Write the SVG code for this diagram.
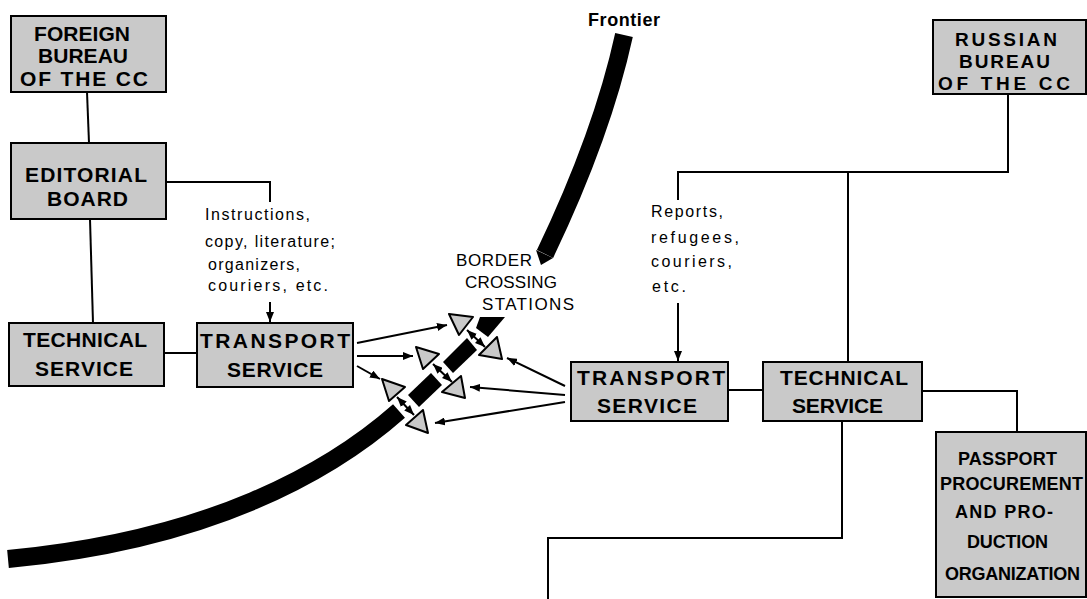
<svg xmlns="http://www.w3.org/2000/svg" width="1087" height="599" viewBox="0 0 1087 599">
<defs>
<marker id="ah" viewBox="0 0 10 8" refX="10" refY="4" markerWidth="10" markerHeight="8" markerUnits="userSpaceOnUse" orient="auto-start-reverse">
<path d="M0,0 L10,4 L0,8 Z" fill="#000"/>
</marker>
</defs>
<style>
.box{fill:#c9c9c9;stroke:#000;stroke-width:2}
.bt{font-family:"Liberation Sans",Arial,sans-serif;font-weight:bold;font-size:21px;fill:#000}
.br{font-family:"Liberation Sans",Arial,sans-serif;font-weight:bold;font-size:19px;fill:#000}
.bs{font-family:"Liberation Sans",Arial,sans-serif;font-weight:bold;font-size:18px;fill:#000}
.ann{font-family:"Liberation Sans",Arial,sans-serif;font-size:16px;fill:#000}
.lbl{font-family:"Liberation Sans",Arial,sans-serif;font-size:17px;fill:#000}
.ln{fill:none;stroke:#000;stroke-width:2}
.ar{fill:none;stroke:#000;stroke-width:2;marker-end:url(#ah)}
.da{fill:none;stroke:#000;stroke-width:2;marker-start:url(#ah);marker-end:url(#ah)}
.st{fill:#c9c9c9;stroke:#000;stroke-width:2;stroke-linejoin:round}
.band{fill:none;stroke:#000;stroke-width:18}
</style>
<rect width="1087" height="599" fill="#fff"/>

<g id="frontier">
<path class="band" d="M624,35 C612,90 590,160 545,254"/>
<polygon points="536,250 553,258 541,265" fill="#000"/>
<polygon points="480,317 505,317 488,337 476,328" fill="#000"/>
<polygon points="467,338 477,350 453,373 443,362" fill="#000"/>
<polygon points="431,373 442,385 419,407 408,395" fill="#000"/>
<path class="band" d="M399,411 C330,472 210,540 8,559"/>
<text x="588" y="26" font-family="Liberation Sans,Arial,sans-serif" font-weight="bold" font-size="18" textLength="72" lengthAdjust="spacing">Frontier</text>
</g>

<g id="border-crossing-label">
<text class="lbl" x="456" y="266" textLength="76" lengthAdjust="spacing">BORDER</text>
<text class="lbl" x="465" y="288" textLength="92" lengthAdjust="spacing">CROSSING</text>
<text class="lbl" x="482" y="310" textLength="92" lengthAdjust="spacing">STATIONS</text>
</g>

<g id="stations">
<polygon class="st" points="449,314 473,317 459,335"/>
<polygon class="st" points="497,337 479,355 502,359"/>
<polygon class="st" points="416,347 439,354 423,369"/>
<polygon class="st" points="461,376 442,392 465,398"/>
<polygon class="st" points="382,379 405,387 389,401"/>
<polygon class="st" points="423,410 406,425 428,433"/>
</g>

<g id="connectors">
<polyline class="ln" points="87,92 89,143"/>
<polyline class="ln" points="90,219 93,323"/>
<polyline class="ln" points="166,182 270,182 270,202"/>
<polyline class="ln" points="164,353 197,353"/>
<line class="ar" x1="270" y1="302" x2="270" y2="322"/>
<line class="ar" x1="357" y1="343" x2="447" y2="325"/>
<line class="ar" x1="357" y1="356" x2="413" y2="356"/>
<line class="ar" x1="357" y1="366" x2="380" y2="379"/>
<line class="da" x1="467" y1="330" x2="485" y2="347"/>
<line class="da" x1="433" y1="364" x2="452" y2="382"/>
<line class="da" x1="397" y1="397" x2="414" y2="415"/>
<line class="ar" x1="565" y1="386" x2="507" y2="358"/>
<line class="ar" x1="565" y1="395" x2="470" y2="387"/>
<line class="ar" x1="565" y1="402" x2="435" y2="423"/>
<polyline class="ln" points="1008,94 1008,172 678,172 678,200"/>
<polyline class="ln" points="848,172 848,362"/>
<line class="ar" x1="678" y1="303" x2="678" y2="361"/>
<polyline class="ln" points="728,390 763,390"/>
<polyline class="ln" points="922,391 1017,391 1017,432"/>
<polyline class="ln" points="842,421 842,538 548,538 548,599"/>
</g>

<g id="annotation-left">
<text class="ann" x="205" y="220" textLength="105" lengthAdjust="spacing">Instructions,</text>
<text class="ann" x="205" y="247" textLength="130" lengthAdjust="spacing">copy, literature;</text>
<text class="ann" x="208" y="270" textLength="92" lengthAdjust="spacing">organizers,</text>
<text class="ann" x="208" y="291" textLength="120" lengthAdjust="spacing">couriers, etc.</text>
</g>

<g id="annotation-right">
<text class="ann" x="651" y="217" textLength="72" lengthAdjust="spacing">Reports,</text>
<text class="ann" x="651" y="243" textLength="88" lengthAdjust="spacing">refugees,</text>
<text class="ann" x="651" y="267" textLength="81" lengthAdjust="spacing">couriers,</text>
<text class="ann" x="652" y="292" textLength="34" lengthAdjust="spacing">etc.</text>
</g>

<g id="foreign-bureau">
<rect class="box" x="11" y="16" width="155" height="76"/>
<text class="bt" x="34" y="41" textLength="96" lengthAdjust="spacing">FOREIGN</text>
<text class="bt" x="38" y="63" textLength="90" lengthAdjust="spacing">BUREAU</text>
<text class="bt" x="20" y="86" textLength="128" lengthAdjust="spacing">OF THE CC</text>
</g>

<g id="editorial-board">
<rect class="box" x="11" y="143" width="155" height="76"/>
<text class="bt" x="25" y="182" textLength="122" lengthAdjust="spacing">EDITORIAL</text>
<text class="bt" x="47" y="206" textLength="81" lengthAdjust="spacing">BOARD</text>
</g>

<g id="technical-service-left">
<rect class="box" x="9" y="323" width="155" height="63"/>
<text class="bt" x="23" y="347" textLength="124" lengthAdjust="spacing">TECHNICAL</text>
<text class="bt" x="35" y="376" textLength="98" lengthAdjust="spacing">SERVICE</text>
</g>

<g id="transport-service-left">
<rect class="box" x="197" y="323" width="156" height="64"/>
<text class="bt" x="200" y="348" textLength="150" lengthAdjust="spacing">TRANSPORT</text>
<text class="bt" x="227" y="377" textLength="96" lengthAdjust="spacing">SERVICE</text>
</g>

<g id="transport-service-right">
<rect class="box" x="571" y="362" width="157" height="59"/>
<text class="bt" x="577" y="385" textLength="148" lengthAdjust="spacing">TRANSPORT</text>
<text class="bt" x="597" y="413" textLength="100" lengthAdjust="spacing">SERVICE</text>
</g>

<g id="technical-service-right">
<rect class="box" x="763" y="362" width="159" height="59"/>
<text class="bt" x="780" y="385" textLength="128" lengthAdjust="spacing">TECHNICAL</text>
<text class="bt" x="792" y="413" textLength="91" lengthAdjust="spacing">SERVICE</text>
</g>

<g id="russian-bureau">
<rect class="box" x="933" y="20" width="153" height="74"/>
<text class="br" x="955" y="46" textLength="102" lengthAdjust="spacing">RUSSIAN</text>
<text class="br" x="959" y="68" textLength="91" lengthAdjust="spacing">BUREAU</text>
<text class="br" x="938" y="90" textLength="132" lengthAdjust="spacing">OF THE CC</text>
</g>

<g id="passport-organization">
<rect class="box" x="936" y="432" width="150" height="165"/>
<text class="bs" x="958" y="465" textLength="99" lengthAdjust="spacing">PASSPORT</text>
<text class="bs" x="940" y="490" textLength="143" lengthAdjust="spacing">PROCUREMENT</text>
<text class="bs" x="955" y="518" textLength="98" lengthAdjust="spacing">AND PRO-</text>
<text class="bs" x="967" y="548" textLength="81" lengthAdjust="spacing">DUCTION</text>
<text class="bs" x="945" y="580" textLength="135" lengthAdjust="spacing">ORGANIZATION</text>
</g>
</svg>
